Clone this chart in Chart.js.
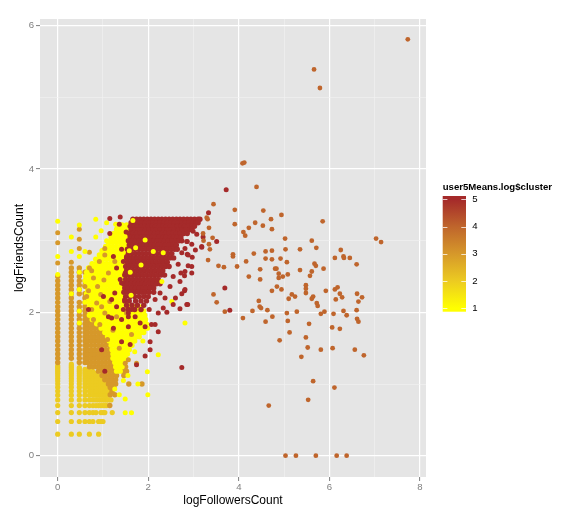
<!DOCTYPE html>
<html><head><meta charset="utf-8">
<script src="https://cdn.jsdelivr.net/npm/chart.js@4.4.1/dist/chart.umd.min.js"></script>
<style>html,body{margin:0;padding:0;background:#fff;}canvas{display:block;}</style>
</head><body>
<canvas id="chart" width="587" height="519" style="width:587px;height:519px"></canvas>
<script>
// ---------- data ----------
const clusterIds = [1, 2, 3, 4, 5];
const clusterColors = ['#FFFF00', '#ECCB21', '#D6982A', '#BF652C', '#A52A2A'];
const xTickLabels = ['0', '2', '4', '6', '8'];
const yTickLabels = ['0', '2', '4', '6'];
const legendTicks = [1, 2, 3, 4, 5];

// rows: [logFriendsCount, logFollowersCount, logFollowersCount, ...]
const cluster2Rows = [
 [0.301, 0,0.301,0.477,0.699,0.903],
 [0.477, 0,0.301,0.477,0.602,0.699,0.778,0.903,0.954,1.0],
 [0.602, 0,0.301,0.477,0.602,0.699,0.778,0.845,0.954,1.0,1.041,1.204],
 [0.699, 0,0.301,0.477,0.602,0.699,0.778,0.845,0.903,0.954,1.0,1.041,1.079],
 [0.778, 0,0.301,0.477,0.602,0.699,0.778,0.845,0.903,0.954,1.0,1.041,1.079,1.114,1.176],
 [0.845, 0,0.301,0.477,0.602,0.699,0.778,0.845,0.903,0.954,1.0,1.041,1.079,1.114],
 [0.903, 0,0.301,0.477,0.602,0.699,0.778,0.845,0.903,0.954,1.0,1.041,1.079,1.146],
 [0.954, 0,0.301,0.477,0.602,0.699,0.778,0.845,0.903,0.954,1.0,1.041,1.114],
 [1.0, 0,0.301,0.477,0.602,0.699,0.778,0.845,0.903,0.954,1.0,1.079],
 [1.041, 0,0.301,0.477,0.602,0.699,0.778,0.845,0.903,0.954,1.0],
 [1.079, 0,0.301,0.477,0.602,0.699,0.778,0.845,0.903,0.954],
 [1.114, 0,0.301,0.477,0.602,0.699,0.778,0.845,0.903],
 [1.146, 0,0.301,0.477,0.602,0.699,0.778,0.845],
 [1.176, 0,0.301,0.477,0.602,0.699,0.778],
 [1.204, 0,0.301,0.477,0.602,0.699],
 [1.23, 0,0.301,0.477],
 [1.255, 0,0.301],
 [1.279, 0.301]
];

const cluster3Rows = [
 [0.70, 1.15],
 [0.85, 1.16,1.26],
 [0.90, 1.20],
 [0.95, 1.16,1.24],
 [1.00, 1.12,1.20,1.28,1.57,1.86],
 [1.06, 1.04,1.12,1.20,1.28],
 [1.12, 0.98,1.06,1.14,1.22,1.30,1.46],
 [1.18, 0.90,0.98,1.06,1.14,1.22,1.30,1.44,1.52],
 [1.24, 0.70,0.78,0.86,0.94,1.02,1.10,1.18,1.26,1.50],
 [1.30, 0,0.477,0.602,0.66,0.74,0.82,0.90,0.98,1.06,1.14,1.22,1.48],
 [1.36, 0,0.301,0.477,0.602,0.66,0.74,0.82,0.90,0.98,1.06,1.14,1.22,1.40],
 [1.42, 0,0.301,0.477,0.602,0.66,0.74,0.82,0.90,0.98,1.06,1.14,1.20],
 [1.48, 0,0.301,0.477,0.602,0.66,0.74,0.82,0.90,0.98,1.06,1.14],
 [1.54, 0,0.301,0.477,0.602,0.66,0.74,0.82,0.90,0.98,1.06,1.14],
 [1.60, 0,0.301,0.477,0.602,0.66,0.74,0.82,0.90,0.98,1.06,1.10],
 [1.66, 0,0.301,0.477,0.602,0.66,0.74,0.82,0.90,0.98,1.06],
 [1.72, 0,0.301,0.477,0.602,0.66,0.74,0.82,0.90,0.98],
 [1.78, 0,0.301,0.477,0.602,0.66,0.74,0.82,0.90],
 [1.84, 0,0.301,0.477,0.602,0.66,0.74,0.82],
 [1.90, 0,0.301,0.477,0.602,0.66,0.72],
 [1.96, 0,0.301,0.477,0.602,0.66],
 [2.02, 0,0.301,0.477,0.602],
 [2.08, 0,0.301,0.477,0.602],
 [2.14, 0,0.301,0.477,0.602],
 [2.20, 0,0.301,0.602],
 [2.26, 0,0.301,0.477,0.602],
 [2.32, 0,0.301,0.477],
 [2.38, 0,0.301,0.477,0.602],
 [2.44, 0,0.301,0.477,0.602],
 [2.50, 0,0.301,0.477],
 [2.56, 0.301,0.477,0.602],
 [2.62, 0.301,0.477]
];

const cluster1Rows = [
 [3.22, 1.32,1.42,1.52],
 [3.16, 1.30,1.38,1.46,1.54],
 [3.10, 1.24,1.32,1.40,1.48,1.56],
 [3.04, 1.18,1.26,1.34,1.42,1.50,1.58],
 [2.98, 1.12,1.20,1.28,1.36,1.44,1.52,1.58],
 [2.92, 1.06,1.14,1.22,1.30,1.38,1.46,1.54],
 [2.86, 0.98,1.06,1.14,1.22,1.30,1.38,1.46,1.54],
 [2.80, 0.92,1.00,1.08,1.16,1.24,1.32,1.40,1.48,1.56],
 [2.74, 0.84,0.92,1.00,1.08,1.16,1.24,1.32,1.40,1.48],
 [2.68, 0.76,0.84,0.92,1.00,1.08,1.16,1.24,1.32,1.40,1.48],
 [2.62, 0.68,0.76,0.84,0.92,1.00,1.08,1.16,1.24,1.32,1.40,1.48],
 [2.56, 0.64,0.72,0.80,0.88,0.96,1.04,1.12,1.20,1.28,1.36,1.44,1.50],
 [2.50, 0.62,0.70,0.78,0.86,0.94,1.02,1.10,1.18,1.26,1.34,1.42,1.48],
 [2.44, 0.66,0.74,0.82,0.90,0.98,1.06,1.14,1.22,1.30,1.38,1.46],
 [2.38, 0.62,0.70,0.78,0.86,0.94,1.02,1.10,1.18,1.26,1.34,1.42,1.48],
 [2.32, 0.66,0.74,0.82,0.90,0.98,1.06,1.14,1.22,1.30,1.38,1.46],
 [2.26, 0.64,0.72,0.80,0.88,0.96,1.04,1.12,1.20,1.28,1.36,1.44],
 [2.20, 0.68,0.76,0.84,0.92,1.00,1.08,1.16,1.24,1.32,1.40,1.48],
 [2.14, 0.68,0.76,0.84,0.92,1.00,1.08,1.16,1.24,1.32,1.40,1.48,1.54],
 [2.08, 0.70,0.78,0.86,0.94,1.02,1.10,1.18,1.26,1.34,1.42,1.50,1.58,1.70,1.80],
 [2.02, 0.72,0.80,0.88,0.96,1.04,1.12,1.20,1.28,1.36,1.44,1.52,1.60,1.68,1.76,1.84,1.90],
 [1.96, 0.70,0.78,0.86,0.94,1.02,1.10,1.18,1.26,1.34,1.42,1.50,1.58,1.66,1.74,1.82,1.92],
 [1.90, 0.76,0.84,0.92,1.00,1.08,1.16,1.24,1.32,1.40,1.48,1.56,1.64,1.72,1.80,1.88,1.94],
 [1.84, 0.86,0.94,1.02,1.10,1.18,1.26,1.34,1.42,1.50,1.58,1.66,1.74,1.82,1.90,1.96],
 [1.78, 0.96,1.04,1.12,1.20,1.28,1.36,1.44,1.52,1.60,1.68,1.76,1.84,1.92,1.98],
 [1.72, 1.04,1.12,1.20,1.28,1.36,1.44,1.52,1.60,1.68,1.76,1.84,1.90],
 [1.66, 1.10,1.18,1.26,1.34,1.42,1.50,1.58,1.66,1.74,1.80],
 [1.60, 1.14,1.22,1.30,1.38,1.46,1.54,1.62,1.70],
 [1.54, 1.18,1.26,1.34,1.42,1.50,1.58,1.64],
 [1.48, 1.20,1.28,1.36,1.44,1.52,1.58],
 [1.42, 1.22,1.30,1.38,1.46,1.54],
 [1.36, 1.22,1.30,1.38,1.46,1.50],
 [1.30, 1.26,1.34,1.42],
 [1.24, 1.28,1.36,1.42],
 [1.18, 1.30,1.38]
];

const cluster5Rows = [
 [3.30, 1.66,1.74,1.82,1.90,1.98,2.06,2.14,2.22,2.30,2.38,2.46,2.54,2.62,2.70,2.78,2.86,2.94,3.02,3.10,3.14],
 [3.25, 1.62,1.70,1.78,1.86,1.94,2.02,2.10,2.18,2.26,2.34,2.42,2.50,2.58,2.66,2.74,2.82,2.90,2.98,3.06,3.10],
 [3.20, 1.60,1.68,1.76,1.84,1.92,2.00,2.08,2.16,2.24,2.32,2.40,2.48,2.56,2.64,2.72,2.80,2.88,2.96,3.02],
 [3.15, 1.62,1.70,1.78,1.86,1.94,2.02,2.10,2.18,2.26,2.34,2.42,2.50,2.58,2.66,2.74,2.82,2.90],
 [3.10, 1.58,1.66,1.74,1.82,1.90,1.98,2.06,2.14,2.22,2.30,2.38,2.46,2.54,2.62,2.70,2.78,2.86],
 [3.05, 1.60,1.68,1.76,1.84,1.92,2.00,2.08,2.16,2.24,2.32,2.40,2.48,2.56,2.64,2.72],
 [3.00, 1.56,1.64,1.72,1.80,1.88,1.96,2.04,2.12,2.20,2.28,2.36,2.44,2.52,2.60,2.68,2.74],
 [2.94, 1.58,1.66,1.74,1.82,1.90,1.98,2.06,2.14,2.22,2.30,2.38,2.46,2.54,2.62],
 [2.88, 1.54,1.62,1.70,1.78,1.86,1.94,2.02,2.10,2.18,2.26,2.34,2.42,2.50,2.58,2.64],
 [2.82, 1.56,1.64,1.72,1.80,1.88,1.96,2.04,2.12,2.20,2.28,2.36,2.44,2.52],
 [2.76, 1.52,1.60,1.68,1.76,1.84,1.92,2.00,2.08,2.16,2.24,2.32,2.40,2.48,2.56],
 [2.70, 1.54,1.62,1.70,1.78,1.86,1.94,2.02,2.10,2.18,2.26,2.34,2.42],
 [2.64, 1.50,1.58,1.66,1.74,1.82,1.90,1.98,2.06,2.14,2.22,2.30,2.38,2.46],
 [2.58, 1.52,1.60,1.68,1.76,1.84,1.92,2.00,2.08,2.16,2.24,2.32],
 [2.52, 1.48,1.56,1.64,1.72,1.80,1.88,1.96,2.04,2.12,2.20,2.28,2.36],
 [2.46, 1.50,1.58,1.66,1.74,1.82,1.90,1.98,2.06,2.14,2.22],
 [2.40, 1.46,1.54,1.62,1.70,1.78,1.86,1.94,2.02,2.10,2.18,2.26],
 [2.34, 1.48,1.56,1.64,1.72,1.80,1.88,1.96,2.04,2.12],
 [2.28, 1.46,1.54,1.62,1.70,1.78,1.86,1.94,2.02,2.12],
 [2.22, 1.50,1.60,1.70,1.80,1.90,2.00],
 [2.16, 1.48,1.58,1.72,1.84,1.96],
 [2.10, 1.52,1.64,1.76,1.90],
 [2.04, 1.56,1.70,1.84]
];

// scattered points: [logFollowersCount, logFriendsCount]
const cluster3Extra = [
 [0.70,2.84],[1.04,2.89],[0.92,2.71],[0.75,2.58],[0.79,2.48],[0.64,2.22],[0.86,2.13],[0.75,2.04],
 [0.97,2.08],[0.60,2.36],[0.88,2.36],[1.02,2.45],[0.68,2.30],[0.79,1.90],[0.93,1.83],[1.30,1.94],
 [1.52,1.99],[1.04,1.99],[1.63,1.69],[1.74,1.29],[1.56,1.34],[1.49,1.29],[1.26,2.71],[1.12,2.55],
 [0.95,2.25],[1.15,2.15],[1.22,1.75],[1.10,1.62],[1.36,1.50],[0.70,2.62],[1.04,2.80],
 [0.477,3.16],[0.477,3.02],[0.477,2.89],[0,2.69],[0,2.97],[0,3.11],[0.301,2.70]
];

const cluster1Extra = [
 [0,3.27],[0,2.78],[0,2.53],[0.301,3.05],[0.301,2.85],[0.477,3.22],[0.477,2.78],[0.602,2.85],
 [0.84,3.30],[0.96,3.14],[0.84,3.05],[1.08,3.00],[1.08,3.25],[1.28,3.23],[0.477,2.56],[0.477,2.32],
 [0.477,2.02],[0.602,2.44],[0.602,2.14],[0.301,2.26],[0.477,1.85],
 [1.93,3.01],[2.11,2.85],[2.33,2.83],[2.30,2.43],[2.52,2.15],[1.66,3.28],[1.72,2.90],
 [1.84,2.66],[1.62,2.24],[1.60,2.56],[1.58,2.86],
 [1.98,1.17],[2.22,1.41],[1.77,1.00],[1.99,0.85],[1.49,0.60],[1.63,0.60],[1.49,0.79],[1.36,0.85],
 [1.26,0.93],[2.81,1.85],[1.55,1.12],[1.45,1.05],[1.88,1.60],[1.70,1.45]
];

const cluster5Extra = [
 [1.15,3.31],[1.38,3.33],[1.36,3.23],[1.15,3.10],[1.51,3.12],[1.41,2.88],[1.52,2.78],
 [1.30,2.62],[1.49,2.55],[1.38,2.46],[1.01,2.22],[1.19,2.18],[1.30,2.08],
 [1.45,2.04],[1.56,1.94],[0.68,2.04],[1.12,1.94],[1.23,2.78],
 [1.45,2.71],[1.41,2.41],[1.26,2.27],[1.48,2.18],[1.56,1.99],[1.19,1.92],
 [1.23,1.78],[1.41,1.90],[1.56,1.80],[1.82,1.85],[1.93,1.80],[2.07,1.83],[2.22,1.73],[1.41,1.59],
 [1.60,1.55],[2.04,1.59],[0.97,1.48],[2.04,1.48],[1.93,1.39],[1.74,1.27],[1.04,1.18],[1.71,1.94],
 [1.63,2.04],[2.02,2.04],[2.15,1.83],[2.74,1.23],
 [2.96,3.16],[3.07,3.09],[2.85,2.99],[2.96,2.95],[3.18,2.92],[2.74,2.83],[2.86,2.81],[2.66,2.67],
 [2.81,2.57],[2.96,2.55],[2.55,2.50],[2.70,2.43],[2.48,2.36],[2.81,2.32],[2.26,2.27],[2.37,2.20],
 [2.15,2.18],[2.55,2.11],[2.33,2.06],[2.70,2.05],[2.85,2.11],[2.22,1.99],[3.33,3.39],[2.99,3.13],
 [3.21,3.05],[3.51,2.99],[3.18,2.91],[3.04,2.87],[2.97,2.77],[2.86,2.99],[2.81,2.89],[2.88,2.80],
 [2.88,2.65],[2.96,2.64],[2.80,2.51],[2.72,2.55],[2.80,2.30],[2.74,2.26],[2.87,2.11],[3.69,2.34],
 [3.80,2.03],[3.72,3.71],[2.41,2.00],[2.60,2.20]
];

const cluster4Points = [
 [7.73,5.81],[5.66,5.39],[5.79,5.13],[4.08,4.08],[4.12,4.09],[4.39,3.75],
 [3.44,3.51],[3.91,3.43],[4.54,3.42],[4.94,3.36],[4.71,3.30],[5.85,3.27],[3.29,3.32],[3.31,3.30],
 [3.34,3.18],[3.91,3.23],[4.36,3.25],[4.22,3.18],[4.53,3.21],[4.73,3.16],[4.10,3.12],[4.14,3.07],
 [3.21,3.10],[3.22,3.00],[3.42,3.04],[5.02,3.03],[5.61,3.00],[7.03,3.03],[7.14,2.98],[3.34,2.95],
 [5.71,2.90],[6.25,2.87],[5.35,2.88],[5.03,2.88],[4.73,2.86],[4.59,2.85],[4.33,2.82],[3.87,2.81],
 [3.87,2.78],[3.36,2.88],[3.32,2.73],[3.55,2.65],[3.67,2.63],[3.96,2.64],[4.16,2.71],[4.59,2.75],
 [4.73,2.74],[4.92,2.75],[5.06,2.70],[6.12,2.76],[6.31,2.78],[6.32,2.76],[6.45,2.76],[6.60,2.67],
 [5.67,2.68],[5.70,2.65],[5.87,2.61],[5.61,2.57],[5.35,2.59],[4.80,2.61],[4.83,2.61],[4.47,2.60],
 [4.88,2.54],[5.08,2.53],[4.97,2.50],[4.88,2.48],[5.57,2.51],[4.22,2.50],[4.47,2.46],
 [4.84,2.36],[4.94,2.32],[4.73,2.30],[5.48,2.38],[5.48,2.33],[5.48,2.27],[5.92,2.30],[6.12,2.32],
 [6.18,2.35],[6.23,2.26],[6.28,2.21],[6.14,2.18],[5.64,2.22],[5.61,2.19],[5.72,2.13],[5.74,2.09],
 [6.61,2.26],[6.72,2.21],[6.64,2.15],[5.17,2.25],[5.24,2.22],[5.10,2.19],[4.44,2.16],[4.46,2.08],
 [4.49,2.06],[3.44,2.25],[3.51,2.14],[4.63,2.03],[4.30,2.02],[3.69,2.01],[5.06,1.99],[5.28,2.01],
 [5.81,1.98],[5.89,2.01],[6.09,1.98],[6.31,2.02],[6.38,1.96],[6.60,2.03],[6.61,1.91],[6.64,1.87],
 [4.09,1.92],[4.59,1.87],[4.74,1.94],[5.08,1.88],[5.55,1.84],[6.06,1.79],[6.23,1.77],[5.12,1.72],
 [4.90,1.61],[5.48,1.65],[5.52,1.51],[5.38,1.38],[5.81,1.48],[6.07,1.50],[6.56,1.48],[6.76,1.40],
 [5.64,1.04],[6.11,0.95],[5.53,0.78],[4.66,0.70],
 [5.03,0],[5.26,0],[5.70,0],[6.16,0],[6.38,0]
];

// ---------- build ----------
function rowsToPoints(rows) {
  const out = [];
  rows.forEach(r => { for (let i = 1; i < r.length; i++) out.push({ x: r[i], y: r[0] }); });
  return out;
}
function pairsToPoints(p) { return p.map(([x, y]) => ({ x, y })); }

// bottom-to-top drawing layers (dense blocks get a slightly larger dot so they close up)
const layers = [
  { id: 2, pts: rowsToPoints(cluster2Rows), r: 2.6 },
  { id: 3, pts: rowsToPoints(cluster3Rows), r: 2.7 },
  { id: 1, pts: rowsToPoints(cluster1Rows), r: 2.7 },
  { id: 3, pts: pairsToPoints(cluster3Extra), r: 2.5 },
  { id: 5, pts: rowsToPoints(cluster5Rows), r: 2.7 },
  { id: 1, pts: pairsToPoints(cluster1Extra), r: 2.5 },
  { id: 5, pts: pairsToPoints(cluster5Extra), r: 2.5 },
  { id: 4, pts: pairsToPoints(cluster4Points), r: 2.4 }
];
const datasets = layers.map((l, i) => ({
  label: 'cluster ' + l.id,
  data: l.pts,
  backgroundColor: clusterColors[clusterIds.indexOf(l.id)],
  borderWidth: 0,
  pointRadius: l.r,
  pointHoverRadius: l.r,
  order: layers.length - i
}));

const FONT = "'Liberation Sans', Arial, Helvetica, sans-serif";

const panelBg = {
  id: 'panelBg',
  beforeDraw(chart) {
    const { ctx, chartArea: a } = chart;
    ctx.save();
    ctx.fillStyle = '#FFFFFF';
    ctx.fillRect(0, 0, chart.width, chart.height);
    ctx.fillStyle = '#E5E5E5';
    ctx.fillRect(a.left, a.top, a.right - a.left, a.bottom - a.top);
    ctx.restore();
  }
};

const colorbar = {
  id: 'colorbar',
  afterDraw(chart) {
    const ctx = chart.ctx;
    const x0 = 442.7, w = 23.3, top = 196, bottom = 311.7;
    const y1 = 308.3, step = 27.25;
    const yOf = v => y1 - (v - legendTicks[0]) * step;
    ctx.save();
    const g = ctx.createLinearGradient(0, bottom, 0, top);
    g.addColorStop(0, clusterColors[0]);
    legendTicks.forEach((v, i) => {
      g.addColorStop((bottom - yOf(v)) / (bottom - top), clusterColors[i]);
    });
    g.addColorStop(1, clusterColors[clusterColors.length - 1]);
    ctx.fillStyle = g;
    ctx.fillRect(x0, top, w, bottom - top);
    ctx.strokeStyle = 'rgba(255,255,255,0.75)';
    ctx.lineWidth = 1;
    ctx.fillStyle = '#000000';
    ctx.font = '9.6px ' + FONT;
    ctx.textBaseline = 'middle';
    ctx.textAlign = 'left';
    legendTicks.forEach(v => {
      const y = Math.round(yOf(v)) + 0.5;
      ctx.beginPath();
      ctx.moveTo(x0, y); ctx.lineTo(x0 + 4.7, y);
      ctx.moveTo(x0 + w - 4.7, y); ctx.lineTo(x0 + w, y);
      ctx.stroke();
      ctx.fillText(String(v), 472.3, yOf(v));
    });
    ctx.font = 'bold 9.6px ' + FONT;
    ctx.fillText('user5Means.log$cluster', 442.7, 187.3);
    ctx.restore();
  }
};

function gridColor(ctx) { return ctx.tick && ctx.tick.value % 2 === 0 ? '#FFFFFF' : '#F2F2F2'; }
function gridWidth(ctx) { return ctx.tick && ctx.tick.value % 2 === 0 ? 1.2 : 0.6; }
function tickColor(ctx) { return ctx.tick && ctx.tick.value % 2 === 0 ? '#7F7F7F' : 'rgba(0,0,0,0)'; }

new Chart(document.getElementById('chart'), {
  type: 'scatter',
  data: { datasets },
  plugins: [panelBg, colorbar],
  options: {
    responsive: false,
    animation: false,
    events: [],
    layout: { padding: { top: 19, right: 161, left: 0, bottom: 0 } },
    plugins: { legend: { display: false }, tooltip: { enabled: false } },
    scales: {
      x: {
        type: 'linear', min: -0.391, max: 8.132,
        afterFit: s => { s.height = 42; },
        border: { display: false },
        grid: { color: gridColor, lineWidth: gridWidth, tickColor: tickColor, tickLength: 4, tickWidth: 1 },
        ticks: {
          stepSize: 1, includeBounds: false, autoSkip: false, maxRotation: 0, padding: 1,
          color: '#7F7F7F', font: { family: FONT, size: 9.6 },
          callback: v => (v % 2 === 0 ? xTickLabels[xTickLabels.indexOf(String(v))] : '')
        },
        title: { display: true, text: 'logFollowersCount', color: '#000000', font: { family: FONT, size: 12 }, padding: { top: 0, bottom: 11 } }
      },
      y: {
        type: 'linear', min: -0.297, max: 6.093,
        afterFit: s => { s.width = 40; },
        border: { display: false },
        grid: { color: gridColor, lineWidth: gridWidth, tickColor: tickColor, tickLength: 4, tickWidth: 1 },
        ticks: {
          stepSize: 1, includeBounds: false, autoSkip: false, padding: 2,
          color: '#7F7F7F', font: { family: FONT, size: 9.6 },
          callback: v => (v % 2 === 0 ? yTickLabels[yTickLabels.indexOf(String(v))] : '')
        },
        title: { display: true, text: 'logFriendsCount', color: '#000000', font: { family: FONT, size: 12 }, padding: { top: 12, bottom: 0 } }
      }
    }
  }
});
</script>
</body></html>
